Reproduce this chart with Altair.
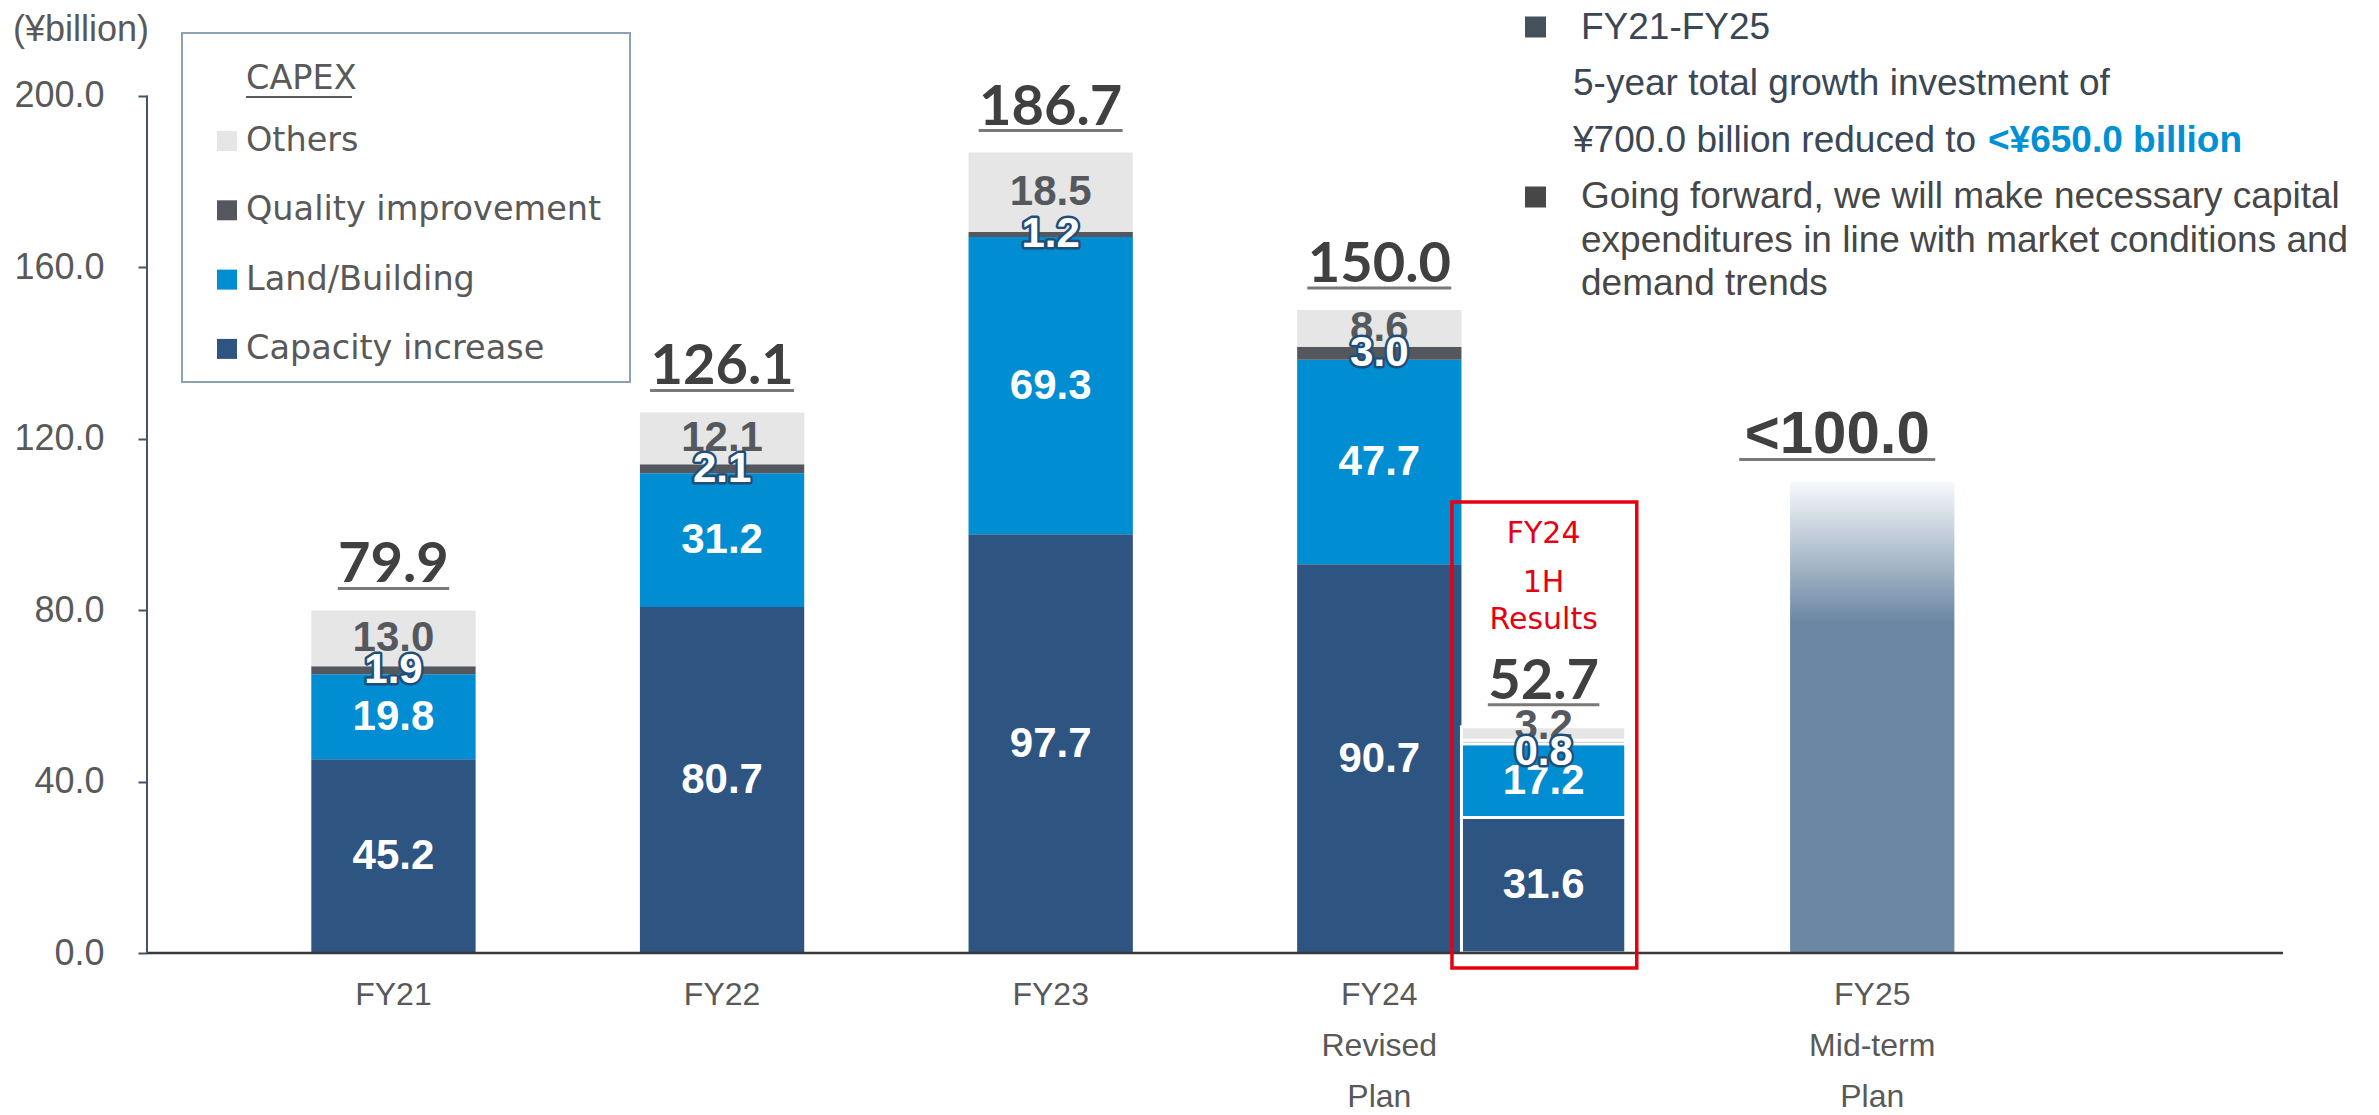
import altair as alt
import pandas as pd

# ---------------- data ----------------
periods = ["FY21", "FY22", "FY23", "FY24", "FY24 1H"]
capacity = [45.2, 80.7, 97.7, 90.7, 31.6]
land = [19.8, 31.2, 69.3, 47.7, 17.2]
quality = [1.9, 2.1, 1.2, 3.0, 0.8]
others = [13.0, 12.1, 18.5, 8.6, 3.2]
total_labels = ["79.9", "126.1", "186.7", "150.0", "52.7"]

plan_period = "FY25"
plan_height = 110.0
plan_label = "<100.0"

components = ["Capacity increase", "Land/Building", "Quality improvement", "Others"]
axis_periods = ["FY21", "FY22", "FY23", "FY24", "FY25"]
axis_labels = ["FY21", "FY22", "FY23", "FY24\nRevised\nPlan", "FY25\nMid-term\nPlan"]
y_ticks = [0, 40, 80, 120, 160, 200]

unit_label = "(¥billion)"
legend_title = "CAPEX"
half_label = ["FY24", "1H", "Results"]
note1 = ["FY21-FY25", "5-year total growth investment of", "¥700.0 billion reduced to "]
note1_hi = "<¥650.0 billion"
note2 = ["Going forward, we will make necessary capital",
         "expenditures in line with market conditions and",
         "demand trends"]

# ---------------- style ----------------
comp_colors = ["#2E5481", "#008DD1", "#54585E", "#E6E6E6"]
W, H = 2136, 940
ymax = 200 * H / 857.4
slots = ["_a", "FY21", "_b", "FY22", "_c", "FY23", "_d", "FY24", "FY24 1H", "_e", "FY25", "_f", "_g"]
step = W / len(slots)
GREY = "#595959"
DARK = "#404040"
HALF = "FY24 1H"

x_enc = alt.X("period:N", scale=alt.Scale(domain=slots, paddingInner=0, paddingOuter=0), axis=None)
y_scale = alt.Scale(domain=[0, ymax], nice=False, zero=False)
y_axis = alt.Axis(values=y_ticks, format=".1f", domain=False, grid=False, tickSize=9,
                  tickWidth=2, tickColor="#44546A", labelFont="Liberation Sans",
                  labelFontSize=36, labelColor=GREY, labelPadding=34, title=None)


def Y(field):
    return alt.Y(field, scale=y_scale, axis=y_axis, title=None)


rows = []
for i, p in enumerate(periods):
    for j, vals in enumerate([capacity, land, quality, others]):
        rows.append({"period": p, "component": components[j], "value": vals[i], "ord": j})
df = pd.DataFrame(rows)

base = (alt.Chart(df)
        .transform_stack(stack="value", groupby=["period"],
                         sort=[alt.SortField("ord", order="ascending")], as_=["y0", "y1"])
        .transform_calculate(ymid="(datum.y0 + datum.y1) / 2"))

color_enc = alt.Color("component:N", scale=alt.Scale(domain=components, range=comp_colors), legend=None)

bars_main = base.transform_filter(f"datum.period != '{HALF}'").mark_bar().encode(
    x=x_enc, y=Y("y0:Q"), y2="y1:Q", color=color_enc)
bars_half = base.transform_filter(f"datum.period == '{HALF}'").mark_bar(
    stroke="white", strokeWidth=3).encode(
    x=x_enc, y=Y("y0:Q"), y2="y1:Q", color=color_enc)

seg_font = dict(font="Liberation Sans", fontWeight="bold", fontSize=42, baseline="middle")


def seg_labels(comp_idx, half, dy=0, **kw):
    cond = "==" if half else "!="
    return (base.transform_filter(f"datum.period {cond} '{HALF}'")
            .transform_filter(alt.FieldEqualPredicate(field="component", equal=components[comp_idx]))
            .mark_text(dy=dy, **seg_font, **kw)
            .encode(x=x_enc, y=Y("ymid:Q"), text=alt.Text("value:Q", format=".1f")))


seg_layers = []
for half, dq, do in [(False, 0, 0), (True, 10, -8)]:
    seg_layers.append(seg_labels(0, half, color="white"))
    seg_layers.append(seg_labels(1, half, color="white"))
    seg_layers.append(seg_labels(3, half, dy=do, color="#55595E"))
    seg_layers.append(seg_labels(2, half, dy=dq, color="#1F4E79", stroke="#1F4E79",
                                 strokeWidth=5, strokeJoin="round"))
    seg_layers.append(seg_labels(2, half, dy=dq, color="white"))

# totals
tops = [capacity[i] + land[i] + quality[i] + others[i] for i in range(len(periods))]
uw = [32.5 * sum(c.isdigit() for c in s) + 14 * s.count(".") for s in total_labels]
df_tot = pd.DataFrame({"period": periods, "top": tops, "label": total_labels, "uw": uw})
tot_text = alt.Chart(df_tot).mark_text(font="Lato", fontWeight="bold", fontSize=56, color=DARK,
                                       baseline="alphabetic", dy=-28).encode(
    x=x_enc, y=Y("top:Q"), text="label:N")
tot_line = alt.Chart(df_tot).mark_tick(thickness=3, color=DARK, yOffset=-22).encode(
    x=x_enc, y=Y("top:Q"), size=alt.Size("uw:Q", scale=None))

# plan bar
df_plan = pd.DataFrame({"period": [plan_period], "v": [plan_height], "label": [plan_label], "uw": [196]})
grad = alt.LinearGradient(gradient="linear", x1=0, x2=0, y1=0, y2=1, stops=[
    alt.GradientStop(color="#F7F9FB", offset=0),
    alt.GradientStop(color="#6B87A3", offset=0.3),
    alt.GradientStop(color="#6B87A3", offset=1)])
plan_bar = alt.Chart(df_plan).mark_bar(color=grad).encode(
    x=x_enc, y=Y("v:Q"), y2=alt.Y2Datum(0))
plan_text = alt.Chart(df_plan).mark_text(font="Liberation Sans", fontWeight="bold", fontSize=60,
                                         color=DARK, baseline="alphabetic", dy=-28, dx=-35).encode(
    x=x_enc, y=Y("v:Q"), text="label:N")
plan_line = alt.Chart(df_plan).mark_tick(thickness=3, color=DARK, yOffset=-22, xOffset=-35).encode(
    x=x_enc, y=Y("v:Q"), size=alt.Size("uw:Q", scale=None))

# axes lines
df_axis = pd.DataFrame({"lo": [0], "hi": [200]})
y_line = alt.Chart(df_axis).mark_rule(color="#44546A", strokeWidth=2).encode(
    x=alt.value(0), y=Y("lo:Q"), y2="hi:Q")
x_line = alt.Chart(df_axis).mark_rule(color="#3A3A3A", strokeWidth=2.5).encode(
    x=alt.value(0), x2=alt.value(W), y=Y("lo:Q"))

df_ax = pd.DataFrame({"period": axis_periods, "label": axis_labels})
x_labels = alt.Chart(df_ax).mark_text(font="Liberation Sans", fontSize=32, color=GREY, lineBreak="\n",
                                      lineHeight=51, baseline="top").encode(
    x=x_enc, y=alt.value(967), text="label:N")


def txt(t, x, y, **kw):
    return alt.Chart(pd.DataFrame({"t": [t]})).mark_text(**kw).encode(
        x=alt.value(x), y=alt.value(y), text="t:N")


def sq(x, y, size, color):
    return alt.Chart(pd.DataFrame({"t": [0]})).mark_square(size=size, color=color, opacity=1,
                                                           filled=True).encode(
        x=alt.value(x), y=alt.value(y))


layers = [bars_main]
# unit label
layers.append(txt(unit_label, -134, 17, font="Liberation Sans", fontSize=36, color=GREY,
                  align="left", baseline="middle"))

# legend box
layers.append(alt.Chart(pd.DataFrame({"t": [0]})).mark_rect(fill="white", stroke="#8EA0B6",
                                                            strokeWidth=2).encode(
    x=alt.value(35), x2=alt.value(483), y=alt.value(20), y2=alt.value(369)))
leg_font = dict(font="DejaVu Sans", fontSize=33.5, color=GREY, align="left", baseline="middle")
layers.append(txt(legend_title, 99, 66, **leg_font))
layers.append(alt.Chart(pd.DataFrame({"t": [0]})).mark_rule(color=GREY, strokeWidth=2).encode(
    x=alt.value(99), x2=alt.value(205), y=alt.value(84)))
for k, comp in enumerate(reversed(components)):
    yk = 128 + k * 69.3
    layers.append(sq(80, yk, 400, comp_colors[components.index(comp)]))
    layers.append(txt(comp, 99, yk, **leg_font))

layers += [bars_half, plan_bar, x_line, y_line] + seg_layers + [
    tot_text, tot_line, plan_text, plan_line, x_labels]

# red box for 1H results
RED = "#E60012"
layers.append(alt.Chart(pd.DataFrame({"t": [0]})).mark_rect(fillOpacity=0, stroke=RED,
                                                            strokeWidth=3.5).encode(
    x=alt.value(8 * step - 9.5), x2=alt.value(9 * step + 11), y=alt.value(489), y2=alt.value(955)))
red_font = dict(font="DejaVu Sans", fontSize=30, color=RED, align="center", baseline="middle")
cx = 8.5 * step
for t, yy in zip(half_label, [521, 570, 607]):
    layers.append(txt(t, cx, yy, **red_font))

# notes at top right
n1_font = dict(font="Liberation Sans", fontSize=37, color="#3B4754", align="left", baseline="middle")
n2_font = dict(font="Liberation Sans", fontSize=37, color="#474747", align="left", baseline="middle")
layers.append(sq(1388.5, 14, 441, "#44505C"))
layers.append(txt(note1[0], 1434, 15, **n1_font))
layers.append(txt(note1[1], 1426, 71, **n1_font))
layers.append(txt(note1[2], 1426, 128, **n1_font))
layers.append(txt(note1_hi, 1841, 128, font="Liberation Sans", fontSize=37, fontWeight="bold",
                  color="#0091D4", align="left", baseline="middle"))
layers.append(sq(1388.5, 184, 441, "#474747"))
for t, yy in zip(note2, [184, 228, 271]):
    layers.append(txt(t, 1434, yy, **n2_font))

chart = alt.layer(*layers).properties(
    width=W, height=H,
    autosize=alt.AutoSizeParams(type="none"),
    padding={"left": 139, "top": 5, "right": 88, "bottom": 160},
).configure_view(stroke=None)

chart.save("out.html", embed_options={"renderer": "svg", "actions": False})
